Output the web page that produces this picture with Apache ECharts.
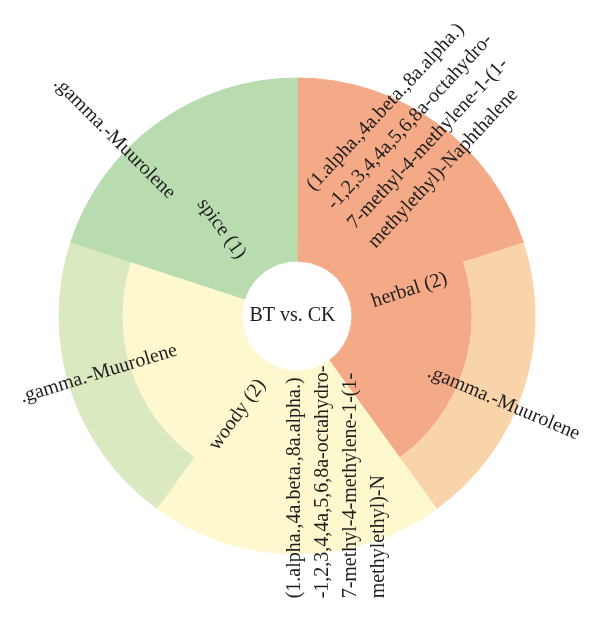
<!DOCTYPE html>
<html>
<head>
<meta charset="utf-8">
<title>BT vs. CK</title>
<style>
  html, body { margin: 0; padding: 0; background: #fff; }
  #container { width: 600px; height: 622px; }
</style>
</head>
<body>
<div id="container"></div>
<script src="https://cdn.jsdelivr.net/npm/echarts@6/dist/echarts.min.js"></script>
<script>
// data
var rootName = 'BT vs. CK';
var categories = ['herbal', 'woody', 'spice'];
var naphName = '(1.alpha.,4a.beta.,8a.alpha.)-1,2,3,4,4a,5,6,8a-octahydro-7-methyl-4-methylene-1-(1-methylethyl)-Naphthalene';
var muuName = '.gamma.-Muurolene';
var compounds = [
    [naphName, muuName],
    [naphName, muuName],
    [muuName]
];
var compoundValues = [
    [1, 1],
    [1, 1],
    [1]
];
// label text as printed in the figure (wrapped, woody one cut off)
var naphLines = ['(1.alpha.,4a.beta.,8a.alpha.)', '-1,2,3,4,4a,5,6,8a-octahydro-', '7-methyl-4-methylene-1-(1-', 'methylethyl)-Naphthalene'];
var naphLinesCut = ['(1.alpha.,4a.beta.,8a.alpha.)', '-1,2,3,4,4a,5,6,8a-octahydro-', '7-methyl-4-methylene-1-(1-', 'methylethyl)-N'];
var leafLabels = [
    [naphLines, [muuName]],
    [naphLinesCut, [muuName]],
    [[muuName]]
];

// styles
var FONT = '"Liberation Serif", "Times New Roman", serif';
var categoryColors = ['#F5AA87', '#FEF8CE', '#B8DCB0'];
var leafColors = [
    ['#F5AA87', '#F9D4AB'],
    ['#FEF8CE', '#DBE9C1'],
    ['#B8DCB0']
];
// label rotation / shift per leaf
var leafLabelPlace = [
    [{ rotate: 47, padding: [0, 0, 22, 28] },
     { rotate: -23, padding: [34, 0, 0, 37] }],
    [{ rotate: 90, padding: [81, 0, 0, 81] },
     { rotate: 17, padding: [0, 0, 12, 0] }],
    [{ rotate: -45, padding: [72, 102, 0, 0] }]
];

var buildData = function () {
    var children = categories.map(function (cat, i) {
        return {
            name: cat,
            itemStyle: { color: categoryColors[i], borderColor: categoryColors[i] },
            children: compounds[i].map(function (c, j) {
                var lines = leafLabels[i][j];
                var place = leafLabelPlace[i][j];
                return {
                    name: c,
                    value: compoundValues[i][j],
                    itemStyle: { color: leafColors[i][j], borderColor: leafColors[i][j] },
                    label: {
                        rotate: place.rotate,
                        padding: place.padding,
                        formatter: lines.map(function (t) { return '{l|' + t + '}'; }).join('\n')
                    }
                };
            })
        };
    });
    return [{
        name: rootName,
        itemStyle: { color: '#ffffff', borderColor: '#ffffff' },
        children: children
    }];
};

var chart = echarts.init(document.getElementById('container'));
chart.setOption({
    animation: false,
    series: [{
        type: 'sunburst',
        center: [297, 316],
        startAngle: 89.9,
        sort: null,
        nodeClick: false,
        data: buildData(),
        itemStyle: { borderWidth: 1 },
        emphasis: { disabled: true },
        label: {
            rotate: 'radial',
            fontFamily: FONT,
            fontSize: 20,
            color: '#1e1e1e'
        },
        levels: [
            {},
            { r0: 0, r: 55, label: { rotate: 0, padding: [0, 9, 0, 0] } },
            { r0: 55, r: 175, label: { verticalAlign: 'top', formatter: function (p) { return p.name + ' (' + p.value + ')'; } } },
            {
                r0: 175, r: 238,
                label: {
                    align: 'center',
                    rich: {
                        l: { align: 'left', fontFamily: FONT, fontSize: 20, lineHeight: 28, color: '#1e1e1e' }
                    }
                }
            }
        ]
    }]
});
</script>
</body>
</html>
